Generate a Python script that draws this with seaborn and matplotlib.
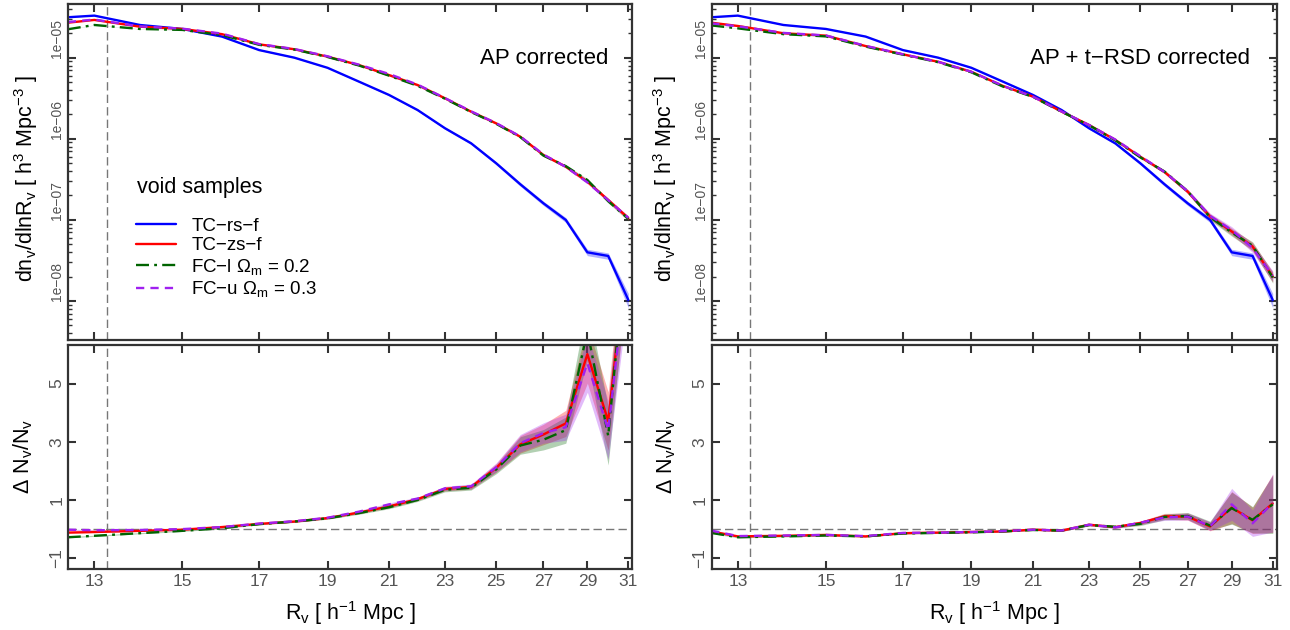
import numpy as np
import pandas as pd
import matplotlib
matplotlib.use("Agg")
import matplotlib.pyplot as plt
import seaborn as sns
from matplotlib.ticker import FixedLocator, NullLocator, NullFormatter, LogLocator
from matplotlib.lines import Line2D

sns.set_theme(style="ticks")
plt.rcParams['font.family'] = ['Liberation Sans', 'DejaVu Sans']
plt.rcParams['mathtext.fontset'] = 'custom'
plt.rcParams['mathtext.rm'] = 'Liberation Sans'
plt.rcParams['mathtext.it'] = 'Liberation Sans:italic'
plt.rcParams['mathtext.bf'] = 'Liberation Sans:bold'
plt.rcParams['mathtext.sf'] = 'Liberation Sans'

# ---------------- data ----------------
R_v = [12.45, 13, 14, 15, 16, 17, 18, 19, 20, 21, 22, 23, 24, 25, 26, 27, 28, 29, 30, 31]

# void size function, reference (real-space true voids) -- same in both panels
tc_rs = [3.15e-5, 3.30e-5, 2.53e-5, 2.26e-5, 1.82e-5, 1.24e-5, 1.0e-5, 7.5e-6, 5.06e-6, 3.47e-6,
         2.26e-6, 1.35e-6, 8.8e-7, 4.99e-7, 2.75e-7, 1.60e-7, 9.98e-8, 3.98e-8, 3.59e-8, 1.03e-8]
tc_rs_err = [0.005, 0.005, 0.006, 0.007, 0.008, 0.01, 0.011, 0.013, 0.016, 0.02,
             0.025, 0.03, 0.035, 0.045, 0.055, 0.06, 0.07, 0.09, 0.09, 0.2]

# AP corrected
ap_zs = [2.7e-5, 2.92e-5, 2.41e-5, 2.26e-5, 1.95e-5, 1.46e-5, 1.27e-5, 1.03e-5, 8.1e-6, 6.1e-6,
         4.6e-6, 3.16e-6, 2.16e-6, 1.55e-6, 1.06e-6, 6.3e-7, 4.53e-7, 2.96e-7, 1.76e-7, 1.05e-7]
ap_fcl = [2.24e-5, 2.53e-5, 2.26e-5, 2.2e-5, 1.9e-5, 1.44e-5, 1.26e-5, 1.02e-5, 8.0e-6, 6.0e-6,
          4.5e-6, 3.12e-6, 2.14e-6, 1.53e-6, 1.05e-6, 6.2e-7, 4.6e-7, 3.1e-7, 1.7e-7, 1.03e-7]
ap_fcu = [2.75e-5, 2.95e-5, 2.43e-5, 2.28e-5, 1.98e-5, 1.47e-5, 1.28e-5, 1.04e-5, 8.2e-6, 6.3e-6,
          4.65e-6, 3.18e-6, 2.18e-6, 1.56e-6, 1.07e-6, 6.4e-7, 4.5e-7, 2.9e-7, 1.75e-7, 1.06e-7]
ap_err = [0.004, 0.004, 0.005, 0.005, 0.006, 0.007, 0.008, 0.009, 0.01, 0.012,
          0.014, 0.016, 0.018, 0.02, 0.025, 0.03, 0.035, 0.04, 0.05, 0.06]

# AP + t-RSD corrected
rsd_zs = [2.7e-5, 2.46e-5, 2.0e-5, 1.87e-5, 1.39e-5, 1.1e-5, 8.9e-6, 6.7e-6, 4.48e-6, 3.31e-6,
          2.16e-6, 1.48e-6, 9.7e-7, 6.0e-7, 3.9e-7, 2.23e-7, 1.1e-7, 7.2e-8, 4.7e-8, 2.0e-8]
rsd_fcl = [2.5e-5, 2.3e-5, 1.95e-5, 1.83e-5, 1.37e-5, 1.09e-5, 8.8e-6, 6.6e-6, 4.4e-6, 3.28e-6,
           2.15e-6, 1.47e-6, 9.6e-7, 5.9e-7, 3.95e-7, 2.25e-7, 1.08e-7, 7.0e-8, 4.8e-8, 1.95e-8]
rsd_fcu = [2.65e-5, 2.44e-5, 2.02e-5, 1.88e-5, 1.4e-5, 1.1e-5, 8.9e-6, 6.7e-6, 4.5e-6, 3.3e-6,
           2.17e-6, 1.48e-6, 9.8e-7, 6.1e-7, 3.9e-7, 2.25e-7, 1.12e-7, 7.5e-8, 4.5e-8, 2.05e-8]
rsd_err = [0.005, 0.005, 0.006, 0.007, 0.008, 0.009, 0.01, 0.012, 0.014, 0.016,
           0.02, 0.024, 0.03, 0.035, 0.045, 0.055, 0.08, 0.1, 0.12, 0.15]

# relative differences Delta N / N
d_ap_zs = [-0.12, -0.10, -0.06, -0.02, 0.07, 0.18, 0.26, 0.38, 0.57, 0.78,
           1.03, 1.38, 1.45, 2.10, 2.91, 3.25, 3.63, 6.01, 3.71, 10.0]
d_ap_fcl = [-0.28, -0.23, -0.14, -0.06, 0.03, 0.17, 0.26, 0.37, 0.55, 0.75,
            1.0, 1.35, 1.42, 2.05, 2.87, 3.07, 3.4, 6.8, 3.2, 10.5]
d_ap_fcu = [-0.02, -0.04, -0.03, 0.0, 0.07, 0.19, 0.27, 0.39, 0.6, 0.85,
            1.05, 1.4, 1.47, 2.12, 2.95, 3.3, 3.5, 5.7, 3.4, 9.5]
d_ap_err = [0.02, 0.02, 0.02, 0.02, 0.02, 0.02, 0.03, 0.03, 0.04, 0.05,
            0.05, 0.07, 0.08, 0.15, 0.3, 0.35, 0.45, 1.0, 1.0, 1.5]

d_rsd_zs = [-0.08, -0.25, -0.23, -0.2, -0.25, -0.14, -0.12, -0.10, -0.08, -0.02,
            -0.05, 0.15, 0.07, 0.21, 0.44, 0.43, 0.09, 0.74, 0.30, 0.88]
d_rsd_fcl = [-0.13, -0.28, -0.25, -0.22, -0.25, -0.15, -0.13, -0.11, -0.08, -0.03,
             -0.05, 0.14, 0.08, 0.18, 0.42, 0.45, 0.12, 0.72, 0.32, 0.85]
d_rsd_fcu = [-0.05, -0.24, -0.22, -0.2, -0.24, -0.13, -0.12, -0.1, -0.07, -0.02,
             -0.05, 0.15, 0.06, 0.22, 0.4, 0.43, 0.1, 0.85, 0.2, 0.9]
d_rsd_err = [0.02, 0.02, 0.02, 0.02, 0.02, 0.02, 0.02, 0.02, 0.02, 0.02,
             0.03, 0.03, 0.04, 0.06, 0.1, 0.12, 0.15, 0.55, 0.45, 1.0]

x_ticks = [13, 15, 17, 19, 21, 23, 25, 27, 29, 31]
y_top_ticks = [1e-8, 1e-7, 1e-6, 1e-5]
y_top_labels = ['1e\u221208', '1e\u221207', '1e\u221206', '1e\u221205']
y_bot_ticks = [-1, 1, 3, 5]
y_bot_labels = ['\u22121', '1', '3', '5']
r_cut = 13.26

names = ['TC\u2212rs\u2212f', 'TC\u2212zs\u2212f',
         'FC\u2212l $\\Omega_\\mathrm{m}$ = 0.2', 'FC\u2212u $\\Omega_\\mathrm{m}$ = 0.3']

# ---------------- style ----------------
C_BLUE, C_RED, C_GREEN, C_PURPLE = '#0000ff', '#ff0000', '#006400', '#a020f0'
LS = {'solid': '-', 'dashdot': (0, (5.5, 2.2, 1.2, 2.2)), 'dashed': (0, (3.5, 2.6))}
SPINE = '#333333'
TICKC = '#555555'

fig = plt.figure(figsize=(12.9, 6.3), dpi=100)
W, H = 1290, 630
def axpos(x0, x1, y0, y1):
    return [x0 / W, 1 - y1 / H, (x1 - x0) / W, (y1 - y0) / H]

ax_tl = fig.add_axes(axpos(68.3, 632.3, 4, 339.5))
ax_bl = fig.add_axes(axpos(68.3, 632.3, 344.5, 568.7))
ax_tr = fig.add_axes(axpos(711.7, 1276.7, 4, 339.5))
ax_br = fig.add_axes(axpos(711.7, 1276.7, 344.5, 568.7))

def band(ax, x, y, e, color, rel, alpha):
    y = np.asarray(y); e = np.asarray(e)
    if rel:
        lo, hi = y * (1 - e), y * (1 + e)
    else:
        lo, hi = y - e, y + e
    ax.fill_between(x, lo, hi, color=color, alpha=alpha, lw=0)

def line(ax, x, y, color, ls, label=None):
    sns.lineplot(x=x, y=y, ax=ax, color=color, lw=1.7, linestyle=ls, sort=False,
                 errorbar=None, label=label, legend=False)

def style_axes(ax, top):
    ax.set_xscale('log')
    ax.set_xlim(12.46, 31.2)
    ax.xaxis.set_major_locator(FixedLocator(x_ticks))
    ax.xaxis.set_minor_locator(NullLocator())
    ax.xaxis.set_minor_formatter(NullFormatter())
    for s in ax.spines.values():
        s.set_color(SPINE); s.set_linewidth(1.6); s.set_visible(True)
    ax.tick_params(which='major', direction='in', length=6, width=1.5, color=SPINE,
                   top=True, right=True, labelsize=12.5, labelcolor=TICKC, pad=4)
    ax.tick_params(which='minor', direction='in', length=3, width=1.0, color=SPINE,
                   left=True, right=True)
    ax.axvline(r_cut, color='#777777', lw=1.0, ls=(0, (6, 3)), zorder=1)
    if top:
        ax.set_yscale('log')
        ax.set_ylim(3.35e-9, 4.59e-5)
        ax.set_yticks(y_top_ticks, labels=y_top_labels, rotation=90, va='bottom',
                      fontsize=10)
        ax.yaxis.set_minor_locator(LogLocator(base=10, subs=np.arange(2, 10)))
        ax.yaxis.set_minor_formatter(NullFormatter())
        ax.set_xticklabels([])
        ax.tick_params(axis='y', pad=3)
    else:
        ax.set_ylim(-1.36, 6.34)
        ax.set_yticks(y_bot_ticks, labels=y_bot_labels, rotation=90, va='center')
        ax.axhline(0, color='#777777', lw=1.0, ls=(0, (6, 3)), zorder=1)
        ax.set_xticklabels([str(t) for t in x_ticks])
        ax.tick_params(axis='y', pad=3)
        ax.set_xlabel(r'$\mathrm{R_v\ [\ h^{-1}\ Mpc\ ]}$', fontsize=15.5, color='black')
        ax.xaxis.set_label_coords(0.5, -0.135)

# ---- top panels ----
for ax, zs, fcl, fcu, err in [(ax_tl, ap_zs, ap_fcl, ap_fcu, ap_err),
                              (ax_tr, rsd_zs, rsd_fcl, rsd_fcu, rsd_err)]:
    style_axes(ax, True)
    band(ax, R_v, tc_rs, tc_rs_err, C_BLUE, True, 0.3)
    band(ax, R_v, zs, err, C_RED, True, 0.3)
    band(ax, R_v, fcl, err, C_GREEN, True, 0.25)
    band(ax, R_v, fcu, err, C_PURPLE, True, 0.3)
    line(ax, R_v, tc_rs, C_BLUE, LS['solid'])
    line(ax, R_v, zs, C_RED, LS['solid'])
    line(ax, R_v, fcl, C_GREEN, LS['dashdot'])
    line(ax, R_v, fcu, C_PURPLE, LS['dashed'])
    ax.set_ylabel(r'$\mathrm{dn_v/dlnR_v\ [\ h^3\ Mpc^{-3}\ ]}$', fontsize=15.5, color='black')

ax_tl.yaxis.set_label_coords(-0.05, 0.48)
ax_tr.yaxis.set_label_coords(-0.058, 0.48)

# ---- bottom panels ----
for ax, zs, fcl, fcu, err in [(ax_bl, d_ap_zs, d_ap_fcl, d_ap_fcu, d_ap_err),
                              (ax_br, d_rsd_zs, d_rsd_fcl, d_rsd_fcu, d_rsd_err)]:
    style_axes(ax, False)
    band(ax, R_v, zs, err, C_RED, False, 0.3)
    band(ax, R_v, fcl, err, C_GREEN, False, 0.3)
    band(ax, R_v, fcu, err, C_PURPLE, False, 0.3)
    line(ax, R_v, zs, C_RED, LS['solid'])
    line(ax, R_v, fcl, C_GREEN, LS['dashdot'])
    line(ax, R_v, fcu, C_PURPLE, LS['dashed'])
    ax.set_ylabel(r'$\mathrm{\Delta\ N_v/N_v}$', fontsize=15.5, color='black')

ax_bl.yaxis.set_label_coords(-0.059, 0.5)
ax_br.yaxis.set_label_coords(-0.059, 0.5)

# annotations
ax_tl.text(0.958, 0.839, 'AP corrected', transform=ax_tl.transAxes, ha='right', va='center',
           fontsize=16, color='black')
ax_tr.text(0.953, 0.839, 'AP + t\u2212RSD corrected', transform=ax_tr.transAxes, ha='right',
           va='center', fontsize=16, color='black')

# legend
ax_tl.text(0.1218, 0.4516, 'void samples', transform=ax_tl.transAxes, ha='left', va='center',
           fontsize=15.5, color='black')
handles = [Line2D([], [], color=C_BLUE, lw=1.7, ls=LS['solid']),
           Line2D([], [], color=C_RED, lw=1.7, ls=LS['solid']),
           Line2D([], [], color=C_GREEN, lw=1.7, ls=LS['dashdot']),
           Line2D([], [], color=C_PURPLE, lw=1.7, ls=LS['dashed'])]
leg = ax_tl.legend(handles, names, loc='center left', bbox_to_anchor=(0.107, 0.242),
                   frameon=False, fontsize=13.5,
                   handlelength=2.1, handletextpad=0.85, labelspacing=0.13,
                   borderaxespad=0)
for t in leg.get_texts():
    t.set_color('black')

fig.savefig('out.png', dpi=100)
